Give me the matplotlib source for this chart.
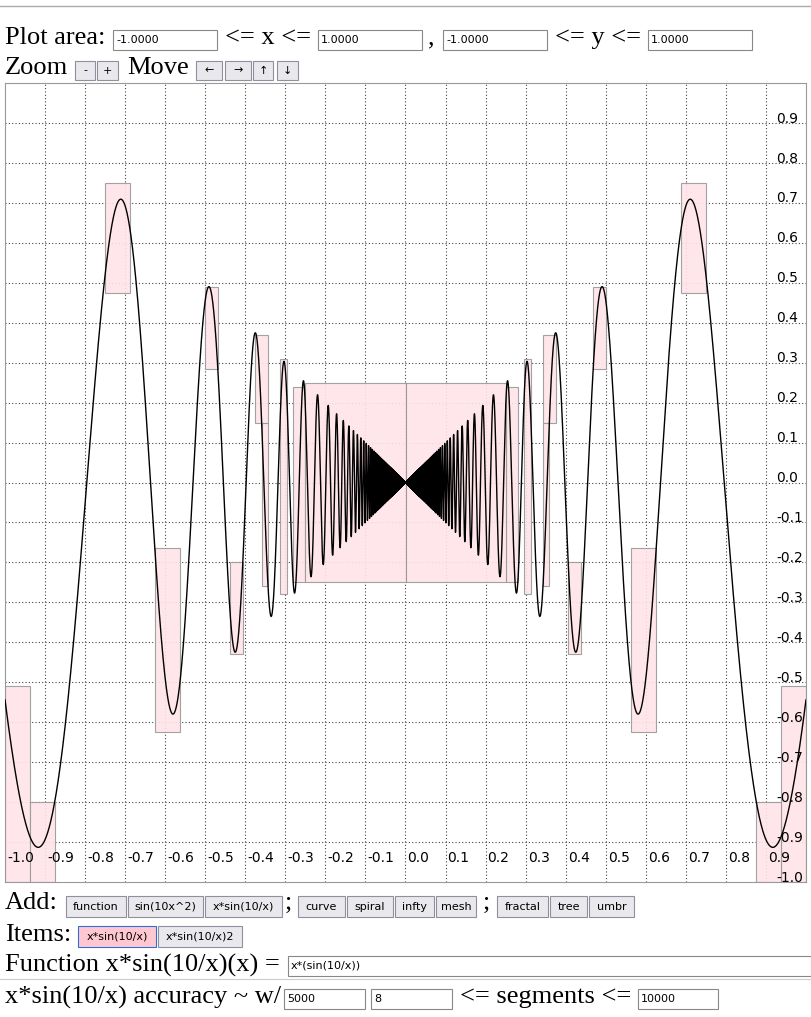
import numpy as np
import matplotlib
matplotlib.use("Agg")
import matplotlib.pyplot as plt
from matplotlib.patches import Rectangle

# ---- data ----
func_label = "x*sin(10/x)"
xticks = [round(-1.0 + 0.1 * i, 1) for i in range(20)]
yticks = [round(0.9 - 0.1 * i, 1) for i in range(20)]
# enclosure boxes (left half; mirrored to the right): x0, x1, y0, y1
boxes_left = [
    (-1.0, -0.9375, -1.0, -0.51),
    (-0.9375, -0.875, -1.0, -0.80),
    (-0.75, -0.6875, 0.475, 0.75),
    (-0.625, -0.5625, -0.625, -0.165),
    (-0.5, -0.469, 0.285, 0.49),
    (-0.4375, -0.406, -0.43, -0.20),
    (-0.375, -0.344, 0.15, 0.37),
    (-0.359, -0.344, -0.26, 0.15),
    (-0.313, -0.297, -0.28, 0.31),
    (-0.281, -0.25, -0.25, 0.24),
]
center_box = (-0.25, 0.25, -0.25, 0.25)

fig = plt.figure(figsize=(8.11, 10.17), dpi=100)
W, H = 811, 1017

# ---- plot ----
ax = fig.add_axes([5 / W, (H - 882) / H, 801 / W, 799 / H])
ax.set_xlim(-1, 1)
ax.set_ylim(-1, 1)
for v in np.arange(-0.9, 1.0, 0.1):
    ax.axvline(v, color="#444", lw=0.8, ls=(0, (1, 2)), zorder=0)
    ax.axhline(v, color="#444", lw=0.8, ls=(0, (1, 2)), zorder=0)
pink = "#ffe4e8"
for (x0, x1, y0, y1) in boxes_left:
    for a, b in [(x0, x1), (-x1, -x0)]:
        ax.add_patch(Rectangle((a, y0), b - a, y1 - y0, fc=pink, ec="#999", lw=0.8, zorder=1, alpha=0.9))
x0, x1, y0, y1 = center_box
ax.add_patch(Rectangle((x0, y0), x1 - x0, y1 - y0, fc=pink, ec="#999", lw=0.8, zorder=1, alpha=0.9))
ax.plot([0, 0], [y0, y1], color="#999", lw=0.8, zorder=1)

xs = np.linspace(-1, 1, 200001)
xs = xs[xs != 0]
ax.plot(xs, xs * np.sin(10 / xs), color="black", lw=1.0, zorder=3)
for t in xticks:
    ax.text(t + 0.005, -0.94, f"{t:.1f}", fontsize=10, ha="left", va="center", zorder=4)
for t in yticks:
    ax.text(0.925, t + 0.011, f"{t:.1f}", fontsize=10, ha="left", va="center", zorder=4)
ax.set_xticks([]); ax.set_yticks([])
for s in ax.spines.values():
    s.set_color("#999")

# ---- UI ----
ui = fig.add_axes([0, 0, 1, 1], zorder=-1)
ui.set_xlim(0, W); ui.set_ylim(H, 0); ui.axis("off")
ser = "Liberation Serif"
def T(x, y, s, fs=19):
    ui.text(x, y, s, fontsize=fs, family=ser, va="center", ha="left")
def inp(x0, x1, y0, y1, s, fs=8):
    ui.add_patch(Rectangle((x0, y0), x1 - x0, y1 - y0, fc="white", ec="#888", lw=0.8))
    ui.text(x0 + 3, (y0 + y1) / 2, s, fontsize=fs, va="center")
def btn(x0, x1, y0, y1, s, fc="#e9e9ed", ec="#8f8f9d", fs=8):
    ui.add_patch(Rectangle((x0, y0), x1 - x0, y1 - y0, fc=fc, ec=ec, lw=0.8))
    ui.text((x0 + x1) / 2, (y0 + y1) / 2, s, fontsize=fs, va="center", ha="center")

ui.plot([0, W], [6, 6], color="#aaa", lw=1)
T(5, 38, "Plot area:")
inp(113, 217, 30, 50, "-1.0000")
T(225, 38, "<= x <=")
inp(318, 422, 30, 50, "1.0000")
T(428, 38, ",")
inp(443, 547, 30, 50, "-1.0000")
T(555, 38, "<= y <=")
inp(648, 752, 30, 50, "1.0000")
T(5, 68, "Zoom")
btn(75, 95, 61, 80, "-"); btn(97, 118, 61, 80, "+")
T(127, 68, "Move")
for (a, b, s) in [(196, 222, "←"), (225, 251, "→"), (253, 273, "↑"), (277, 298, "↓")]:
    btn(a, b, 61, 80, s)

T(5, 903, "Add:")
for (a, b, s) in [(66, 126, "function"), (128, 203, "sin(10x^2)"), (205, 282, "x*sin(10/x)"),
                  (298, 345, "curve"), (347, 393, "spiral"), (395, 434, "infty"), (436, 476, "mesh"),
                  (497, 548, "fractal"), (550, 587, "tree"), (589, 634, "umbr")]:
    btn(a, b, 896, 917, s)
T(285, 903, ";"); T(483, 903, ";")
T(5, 935, "Items:")
btn(78, 156, 926, 947, func_label, fc="#ffc8d0", ec="#3070d0")
btn(158, 242, 926, 947, func_label + "2")
T(5, 965, "Function " + func_label + "(x) =")
inp(288, 811, 956, 976, "x*(sin(10/x))")
ui.plot([0, W], [979, 979], color="#ccc", lw=0.8)
T(5, 997, func_label + " accuracy ~ w/")
inp(284, 365, 989, 1009, "5000")
inp(371, 452, 989, 1009, "8")
T(460, 997, "<= segments <=")
inp(638, 718, 989, 1009, "10000")

fig.savefig("out.png", dpi=100)
